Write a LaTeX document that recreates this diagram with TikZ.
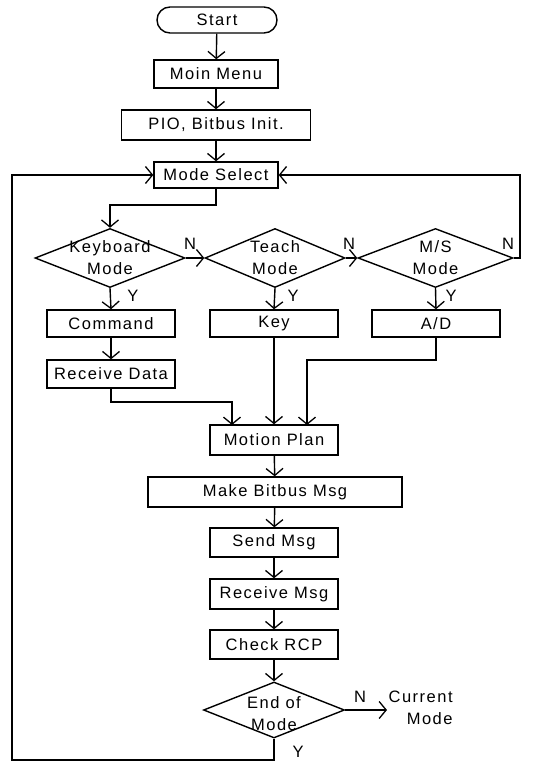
\documentclass[tikz,border=0pt]{standalone}
\usepackage{fontspec}
\setmainfont{Liberation Sans}[LetterSpace=9]
\usetikzlibrary{arrows.meta,shapes.geometric}
\begin{document}
\begin{tikzpicture}[x=1pt,y=-1pt,line width=1.4pt,
  every node/.style={font=\fontsize{16.5}{22}\selectfont},
  box/.style={draw,rectangle,inner sep=0pt,minimum width=128pt,minimum height=28pt},
  dia/.style={draw,diamond,inner sep=0pt},
  lbl/.style={inner sep=0pt,align=center},
  arr/.style={-{Straight Barb[length=7pt,width=17pt,line width=1.3pt]}}
]
\useasboundingbox (0,0) rectangle (544,762);

% main column
\node[draw,rounded corners=13pt,minimum width=120pt,minimum height=26pt,inner sep=0pt] (start) at (217,20) {Start};
\node[box,minimum width=124pt] (menu) at (216,74) {Moin Menu};
\node[box,minimum width=189pt,minimum height=30pt] (pio) at (216,125) {PIO, Bitbus Init.};
\node[box,minimum width=124pt,minimum height=26pt] (ms) at (216,175) {Mode Select};

% decisions
\node[dia,minimum width=150pt,minimum height=59pt] (d1) at (110,258) {};
\node[lbl] (t1) at (d1) {Keyboard\\Mode};
\node[dia,minimum width=140pt,minimum height=59pt] (d2) at (275,258) {};
\node[lbl] (t2) at (d2) {Teach\\Mode};
\node[dia,minimum width=155pt,minimum height=59pt] (d3) at (435.5,258) {};
\node[lbl] (t3) at (d3) {M/S\\Mode};

\node[lbl] (n1) at (190,244) {N};
\node[lbl] (n2) at (349,244) {N};
\node[lbl] (n3) at (508,244) {N};
\node[lbl] (y1) at (133,296) {Y};
\node[lbl] (y2) at (293,296) {Y};
\node[lbl] (y3) at (451,296) {Y};

% branch boxes
\node[box,minimum height=27pt] (cmd) at (111,323.5) {Command};
\node[box,minimum height=27pt] (key) at (274,323.5) {Key};
\node[box,minimum height=27pt] (ad) at (436,323.5) {A/D};
\node[box] (rd) at (111,374) {Receive Data};

% lower column
\node[box,minimum height=30pt] (mp) at (274,440) {Motion Plan};
\node[box,minimum width=254pt,minimum height=30pt] (mb) at (275,492) {Make Bitbus Msg};
\node[box,minimum height=29pt] (sm) at (274,542.5) {Send Msg};
\node[box,minimum height=30pt] (rm) at (274,594) {Receive Msg};
\node[box,minimum height=29pt] (cr) at (274,644.5) {Check RCP};
\node[dia,minimum width=141pt,minimum height=56pt] (de) at (274,710) {};
\node[lbl] (te) at (274,714) {End of\\Mode};
\node[lbl] (ne) at (360,697) {N};
\node[lbl] (ye) at (298,752) {Y};
\coordinate (cur) at (387,710);
\node[lbl,anchor=west] (curt) at (388,708) {Current\\\hspace*{18pt}Mode};

% connectors
\draw[arr] (start) -- (menu);
\draw[arr] (menu) -- (pio);
\draw[arr] (pio) -- (ms);
\draw[arr] (ms.south) -- (ms.south |- 0,205) -| (d1.north);
\draw[arr] (d1.east) -- (d2.west);
\draw[arr] (d2.east) -- (d3.west);
\draw[arr] (d3.east) -- (520,258) -- (520,175) -- (ms.east);
\draw[arr] (d1.south) -- (cmd.north);
\draw[arr] (d2.south) -- (key.north);
\draw[arr] (d3.south) -- (ad.north);
\draw[arr] (cmd) -- (rd);
\draw[arr] (rd.south) -- (111,402) -| (232,425);
\draw[arr] (key.south) -- (mp.north);
\draw[arr] (ad.south) -- (436,360) -| (307,425);
\draw[arr] (mp) -- (mb);
\draw[arr] (mb) -- (sm);
\draw[arr] (sm) -- (rm);
\draw[arr] (rm) -- (cr);
\draw[arr] (cr) -- (de);
\draw[arr] (de.east) -- (cur);
\draw[arr] (de.south) -- (274,760) -- (12,760) -- (12,175) -- (ms.west);
\end{tikzpicture}
\end{document}
